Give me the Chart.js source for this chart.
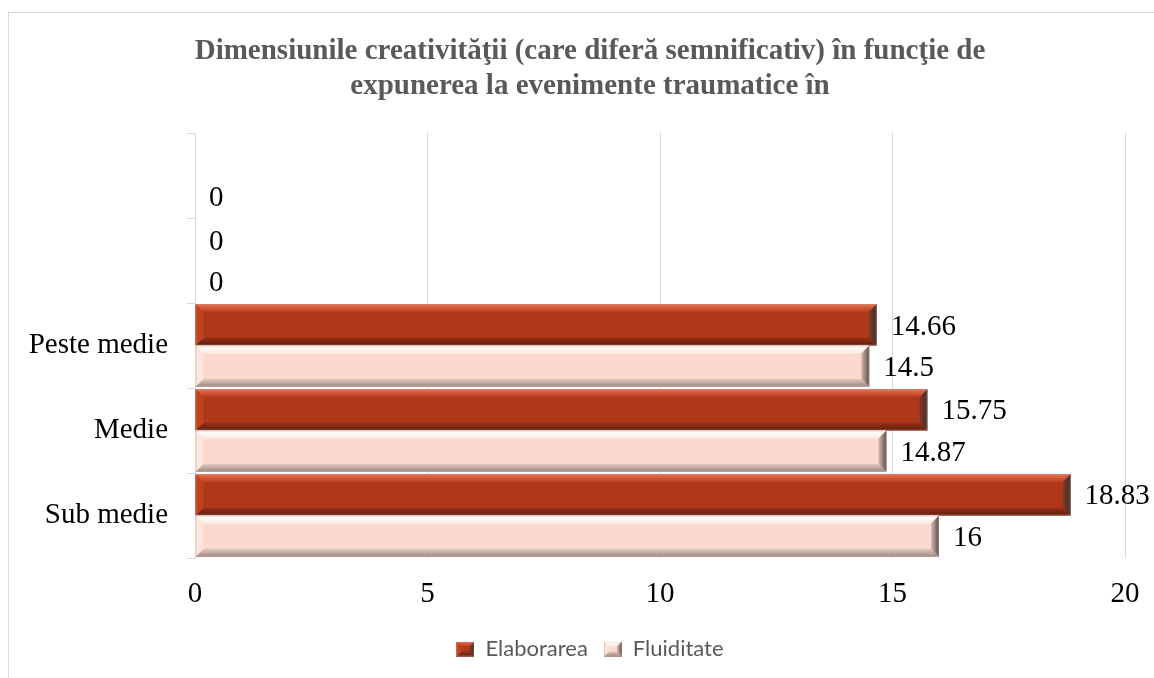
<!DOCTYPE html>
<html>
<head>
<meta charset="utf-8">
<script src="https://cdn.jsdelivr.net/npm/chart.js@4"></script>
<style>
  html, body { margin: 0; padding: 0; background: #fff; }
  #wrap { position: relative; width: 1154px; height: 678px; overflow: hidden; }
  #frame { position: absolute; left: 8px; top: 12px; width: 1200px; height: 700px; border: 1px solid #d9d9d9; box-sizing: border-box; }
  #c { position: absolute; left: 0; top: 0; }
</style>
</head>
<body>
<div id="wrap">
  <div id="frame"></div>
  <canvas id="c" width="1154" height="678"></canvas>
</div>
<script>
// ---- data (categories listed top to bottom) ----
const categories = ["", "", "Peste medie", "Medie", "Sub medie"];
const elaborarea = [null, 0, 14.66, 15.75, 18.83];
const fluiditate = [0, 0, 14.5, 14.87, 16];
const seriesNames = ["Elaborarea", "Fluiditate"];
const xTicks = [0, 5, 10, 15, 20];
const titleLines = ["Dimensiunile creativităţii (care diferă semnificativ) în funcţie de", "expunerea la evenimente traumatice în"];

const palettes = [
  { main: "#B0381A", topA: "#E87050", topB: "#B83D1D", left: "#C0421F", botA: "#9A3017", botB: "#5E2010", rightA: "#8A3A24", rightB: "#3A302E" },
  { main: "#FCD9CE", topA: "#FFFFFF", topB: "#FEEBE4", left: "#FEE6DD", botA: "#E6CBC2", botB: "#9A8883", rightA: "#D8BCB2", rightB: "#5A4E4A" }
];

function drawBevel(ctx, L, R, T, B, p) {
  const w = R - L, h = B - T;
  if (w <= 0.5) return;
  const b = Math.min(8, w / 2, h / 3);
  ctx.save();
  ctx.fillStyle = p.main;
  ctx.fillRect(L, T, w, h);
  let g = ctx.createLinearGradient(0, T, 0, T + b);
  g.addColorStop(0, p.topA); g.addColorStop(1, p.topB);
  ctx.fillStyle = g;
  ctx.beginPath(); ctx.moveTo(L, T); ctx.lineTo(R, T); ctx.lineTo(R - b, T + b); ctx.lineTo(L + b, T + b); ctx.closePath(); ctx.fill();
  g = ctx.createLinearGradient(0, B - b, 0, B);
  g.addColorStop(0, p.botA); g.addColorStop(1, p.botB);
  ctx.fillStyle = g;
  ctx.beginPath(); ctx.moveTo(L, B); ctx.lineTo(R, B); ctx.lineTo(R - b, B - b); ctx.lineTo(L + b, B - b); ctx.closePath(); ctx.fill();
  ctx.fillStyle = p.left;
  ctx.beginPath(); ctx.moveTo(L, T); ctx.lineTo(L + b, T + b); ctx.lineTo(L + b, B - b); ctx.lineTo(L, B); ctx.closePath(); ctx.fill();
  g = ctx.createLinearGradient(R - b, 0, R, 0);
  g.addColorStop(0, p.rightA); g.addColorStop(1, p.rightB);
  ctx.fillStyle = g;
  ctx.beginPath(); ctx.moveTo(R, T); ctx.lineTo(R - b, T + b); ctx.lineTo(R - b, B - b); ctx.lineTo(R, B); ctx.closePath(); ctx.fill();
  ctx.strokeStyle = "rgba(200,150,135,0.45)";
  ctx.lineWidth = 1;
  ctx.strokeRect(L + 0.5, T + 0.5, w - 1, h - 1);
  ctx.restore();
}

function legendIcon(p) {
  const cv = document.createElement("canvas");
  cv.width = 18; cv.height = 15;
  drawBevel(cv.getContext("2d"), 0, 18, 0, 15, p);
  return cv;
}

const bevelPlugin = {
  id: "bevel",
  afterDatasetsDraw(chart) {
    const ctx = chart.ctx;
    chart.data.datasets.forEach((ds, di) => {
      const meta = chart.getDatasetMeta(di);
      meta.data.forEach((el, i) => {
        const v = ds.data[i];
        if (v === null || v === undefined) return;
        const props = el.getProps(["x", "y", "base", "height"], true);
        const L = Math.min(props.base, props.x), R = Math.max(props.base, props.x);
        const T = props.y - props.height / 2, B = props.y + props.height / 2;
        drawBevel(ctx, L, R, T, B, palettes[di]);
      });
    });
    ctx.save();
    ctx.font = "29px 'Liberation Serif', 'DejaVu Serif', serif";
    ctx.fillStyle = "#000";
    ctx.textBaseline = "middle";
    ctx.textAlign = "left";
    chart.data.datasets.forEach((ds, di) => {
      const meta = chart.getDatasetMeta(di);
      meta.data.forEach((el, i) => {
        const v = ds.data[i];
        if (v === null || v === undefined) return;
        const props = el.getProps(["x", "y"], true);
        ctx.fillText(String(v), props.x + 14, props.y + 2);
      });
    });
    ctx.restore();
  }
};

const icons = palettes.map(legendIcon);

new Chart(document.getElementById("c"), {
  type: "bar",
  data: {
    labels: categories,
    datasets: [
      { label: seriesNames[0], data: elaborarea, backgroundColor: "rgba(0,0,0,0)", borderWidth: 0 },
      { label: seriesNames[1], data: fluiditate, backgroundColor: "rgba(0,0,0,0)", borderWidth: 0 }
    ]
  },
  options: {
    indexAxis: "y",
    responsive: false,
    animation: false,
    devicePixelRatio: 1,
    categoryPercentage: 0.97,
    barPercentage: 1.0,
    layout: { padding: { left: 26, right: 0, top: 0, bottom: 8 } },
    scales: {
      x: {
        min: 0, max: 20,
        afterBuildTicks: (s) => { s.ticks = xTicks.map(v => ({ value: v })); },
        afterFit: (s) => { s.height = 64; s.paddingRight = 29; },
        grid: { color: "#d9d9d9", lineWidth: 1, drawTicks: false },
        border: { display: false },
        ticks: { font: { family: "'Liberation Serif', serif", size: 29 }, color: "#000", padding: 19 }
      },
      y: {
        afterFit: (s) => { s.width = 169; },
        grid: { offset: true, drawOnChartArea: false, drawTicks: true, tickLength: 8, color: "#d9d9d9", lineWidth: 1 },
        border: { display: true, color: "#d9d9d9", width: 1 },
        ticks: { font: { family: "'Liberation Serif', serif", size: 29 }, color: "#000", padding: 19 }
      }
    },
    plugins: {
      title: {
        display: true,
        text: titleLines,
        color: "#595959",
        font: { family: "'Liberation Serif', serif", size: 29, weight: "bold", lineHeight: 1.207 },
        padding: { top: 34.5, bottom: 28.5 }
      },
      legend: {
        position: "bottom",
        labels: {
          font: { family: "Lato, 'Open Sans', sans-serif", size: 22 },
          color: "#595959",
          padding: 16,
          boxWidth: 18,
          boxHeight: 15,
          usePointStyle: true,
          generateLabels: (chart) => chart.data.datasets.map((ds, i) => ({
            text: ds.label, pointStyle: icons[i], fontColor: "#595959",
            fillStyle: palettes[i].main, strokeStyle: palettes[i].main, lineWidth: 0, datasetIndex: i, hidden: false
          }))
        }
      },
      tooltip: { enabled: false }
    }
  },
  plugins: [bevelPlugin]
});
</script>
</body>
</html>
